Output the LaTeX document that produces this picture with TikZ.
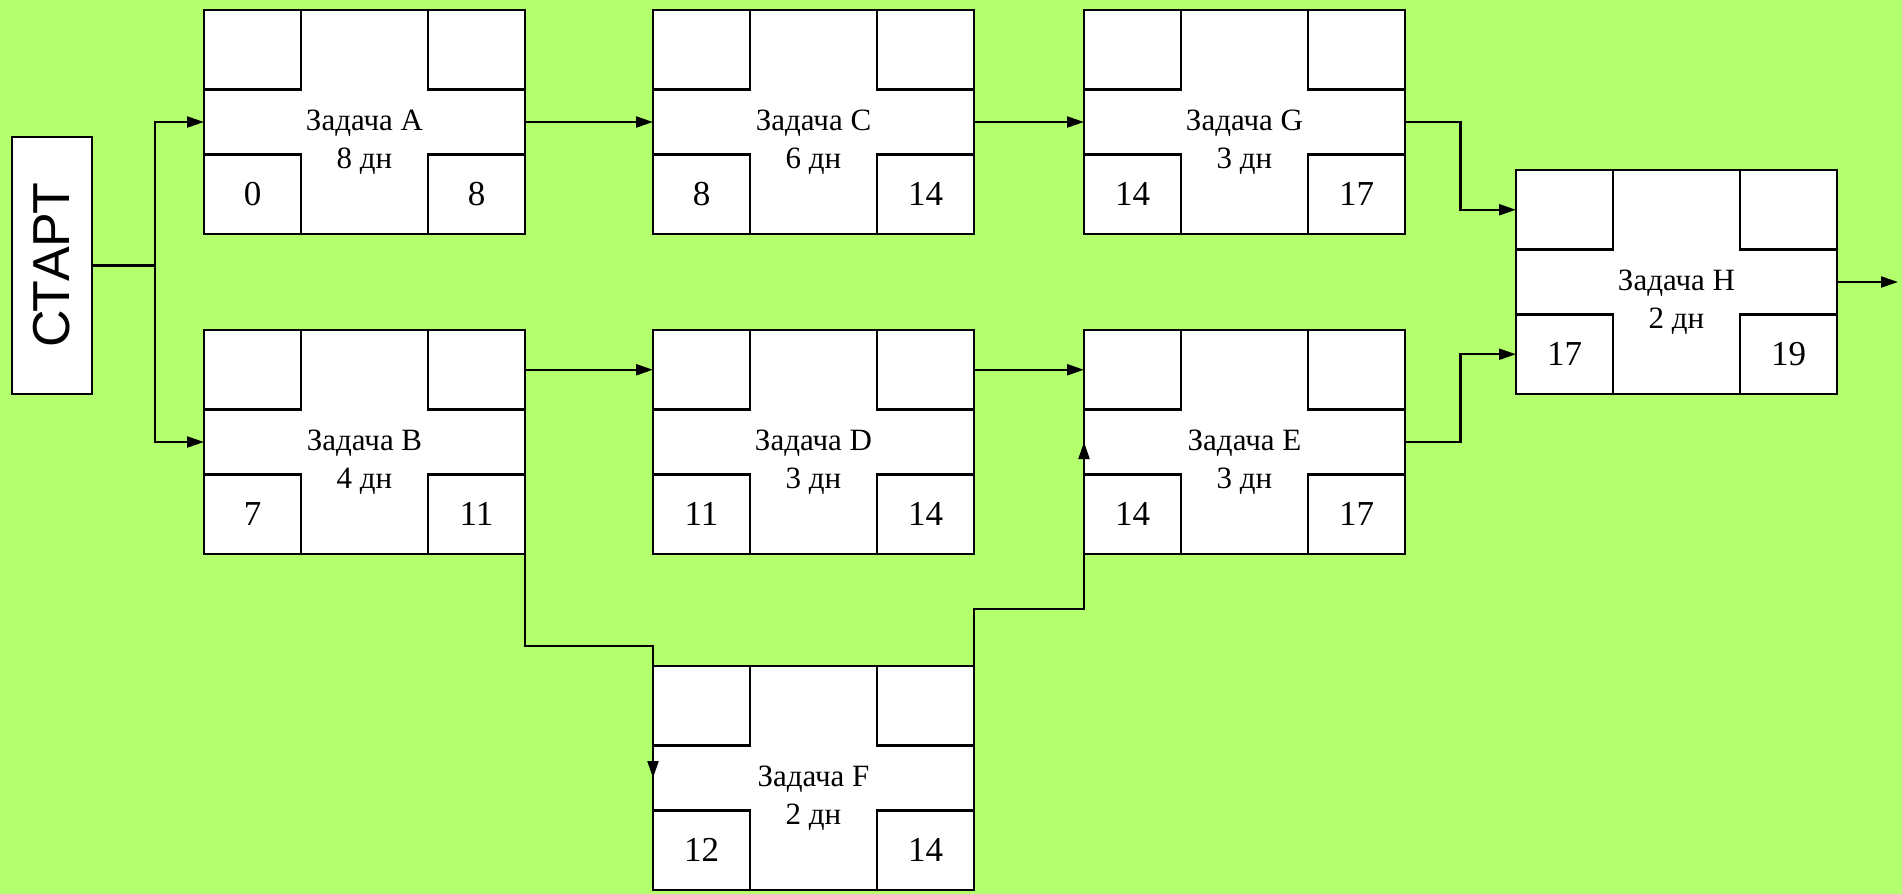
\documentclass[tikz,border=0pt]{standalone}
\usepackage{fontspec}
\setmainfont{Liberation Serif}
\newfontfamily\startfont{Liberation Sans}
\usetikzlibrary{arrows.meta,calc}
\definecolor{bggreen}{RGB}{179,255,110}
\tikzset{
  tbox/.style={draw=black, fill=white, line width=1.1pt, minimum width=160.5pt, minimum height=112pt, inner sep=0pt, outer sep=0pt},
  sq/.style={draw=black, fill=white, line width=1.1pt, minimum width=48.5pt, minimum height=39.75pt, inner sep=0pt, outer sep=0pt, font=\fontsize{17.5}{21}\selectfont},
  lbl/.style={inner sep=0pt, outer sep=0pt, anchor=base, font=\fontsize{15.5}{18.6}\selectfont},
  conn/.style={draw=black, line width=1.1pt, -{Triangle[length=8.5pt,width=5.5pt]}},
  startbox/.style={draw=black, fill=white, line width=1.1pt, minimum width=40pt, minimum height=128.5pt, inner sep=0pt, outer sep=0pt},
}
\newcommand\taskbox[7]{%
  \node[tbox] (#1) at (#2,#3) {};
  \node[sq, anchor=north west] (#1tl) at (#1.north west) {};
  \node[sq, anchor=north east] (#1tr) at (#1.north east) {};
  \node[sq, anchor=south west] (#1bl) at (#1.south west) {#6};
  \node[sq, anchor=south east] (#1br) at (#1.south east) {#7};
  \node[lbl] (#1lab) at ($(#1.center)+(0,8)$) {Задача #4};
  \node[lbl] (#1dur) at ($(#1.center)+(0,46)$) {#5 дн};
}
\begin{document}
\begin{tikzpicture}[x=0.5pt,y=-0.5pt]
  \useasboundingbox (0,0) rectangle (1902,894);
  \fill[bggreen] (0,0) rectangle (1902,894);
  % start
  \node[startbox] (S) at (52,265.5) {};
  \node[inner sep=0pt, rotate=90, font=\startfont\fontsize{26}{30}\selectfont] (Stxt) at (S.center) {СТАРТ};
  % tasks
  \taskbox{A}{364.5}{122}{A}{8}{0}{8}
  \taskbox{C}{813.5}{122}{C}{6}{8}{14}
  \taskbox{G}{1244.5}{122}{G}{3}{14}{17}
  \taskbox{B}{364.5}{442}{B}{4}{7}{11}
  \taskbox{D}{813.5}{442}{D}{3}{11}{14}
  \taskbox{E}{1244.5}{442}{E}{3}{14}{17}
  \taskbox{F}{813.5}{778}{F}{2}{12}{14}
  \taskbox{H}{1676.5}{282}{H}{2}{17}{19}
  % connectors
  \coordinate (j) at (155,265.5);
  \coordinate (endH) at (1898,282);
  \draw[line width=1.1pt] (S.east) -- (j);
  \draw[conn] (j) |- (A.west);
  \draw[conn] (j) |- (B.west);
  \draw[conn] (A.east) -- (C.west);
  \draw[conn] (C.east) -- (G.west);
  \draw[conn] (Btr.east) -- (Dtl.west);
  \draw[conn] (Dtr.east) -- (Etl.west);
  \draw[conn] (B.south east) -- ++(0,92) -| (F.west);
  \draw[conn] (F.north east) -- ++(0,-57) -| (E.west);
  \draw[conn] (G.east) -- ++(55.5,0) |- (Htl.west);
  \draw[conn] (E.east) -- ++(55.5,0) |- (Hbl.west);
  \draw[conn] (H.east) -- (endH);
\end{tikzpicture}
\end{document}
